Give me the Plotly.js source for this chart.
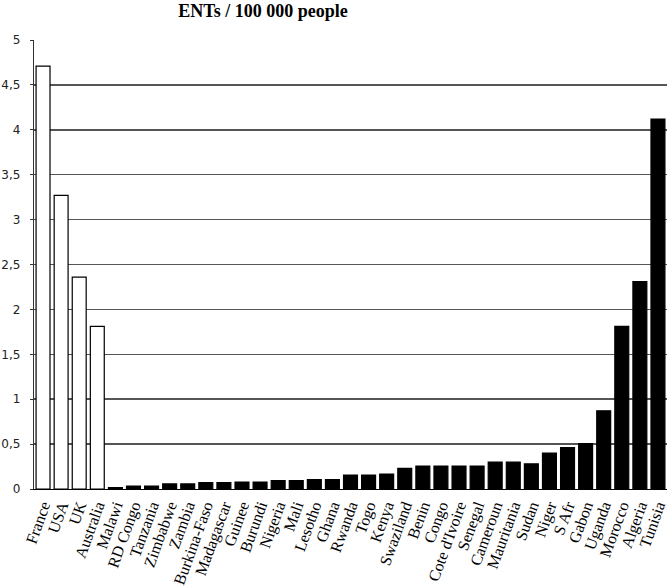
<!DOCTYPE html>
<html>
<head>
<meta charset="utf-8">
<script src="https://cdn.plot.ly/plotly-3.0.1.min.js"></script>
<style>html,body{margin:0;padding:0;background:#fff;}#chart{width:670px;height:587px;}</style>
</head>
<body>
<div id="chart"></div>
<script>
const countries = ["France","USA","UK","Australia","Malawi","RD Congo","Tanzania","Zimbabwe","Zambia","Burkina-Faso","Madagascar","Guinee","Burundi","Nigeria","Mali","Lesotho","Ghana","Rwanda","Togo","Kenya","Swaziland","Benin","Congo","Cote d'Ivoire","Senegal","Cameroun","Mauritania","Sudan","Niger","S Afr","Gabon","Uganda","Morocco","Algeria","Tunisia"];
const entsPer100k = [4.71,3.27,2.36,1.81,0.015,0.033,0.033,0.056,0.056,0.07,0.07,0.078,0.078,0.093,0.093,0.104,0.104,0.156,0.156,0.167,0.23,0.256,0.256,0.256,0.256,0.30,0.30,0.28,0.40,0.46,0.505,0.87,1.81,2.31,4.12];
const groups = ["ref","ref","ref","ref","africa","africa","africa","africa","africa","africa","africa","africa","africa","africa","africa","africa","africa","africa","africa","africa","africa","africa","africa","africa","africa","africa","africa","africa","africa","africa","africa","africa","africa","africa","africa"];
const yTicks = [0,0.5,1,1.5,2,2.5,3,3.5,4,4.5,5];

const colors = groups.map(g => g === "ref" ? "#ffffff" : "#000000");

const trace = {
  type: "bar",
  x: countries,
  y: entsPer100k,
  marker: {color: colors, line: {color: "#000000", width: 1.2}},
  hoverinfo: "x+y"
};

const layout = {
  width: 670, height: 587,
  margin: {l: 34, r: 3, t: 40, b: 98},
  paper_bgcolor: "#ffffff",
  plot_bgcolor: "#ffffff",
  separators: ", ",
  bargap: 0.23,
  showlegend: false,
  title: {
    text: "ENTs / 100 000 people",
    font: {family: "Liberation Serif, serif", size: 18, color: "#000", weight: "bold"},
    xref: "container", x: 0.3925, xanchor: "center",
    yref: "container", y: 0.981, yanchor: "middle"
  },
  xaxis: {
    type: "category",
    range: [-0.5, 34.5],
    tickmode: "array",
    tickvals: countries,
    ticktext: countries,
    tickangle: -70,
    tickfont: {family: "Liberation Serif, serif", size: 16, color: "#000"},
    showline: true, linecolor: "#000", linewidth: 1.2,
    ticks: "", showgrid: false, zeroline: false,
    automargin: false,
    fixedrange: true
  },
  yaxis: {
    range: [0, 5],
    tickmode: "array",
    tickvals: yTicks,
    tickformat: ".1~f",
    tickfont: {family: "DejaVu Sans", size: 12, color: "#222"},
    showline: true, linecolor: "#333", linewidth: 1.2,
    ticks: "outside", ticklen: 3, tickcolor: "#333",
    ticklabelstandoff: 7,
    showgrid: true, gridcolor: "#555", gridwidth: 1.5,
    zeroline: false,
    automargin: false,
    fixedrange: true
  }
};

Plotly.newPlot("chart", [trace], layout, {displayModeBar: false, staticPlot: true});
</script>
</body>
</html>
